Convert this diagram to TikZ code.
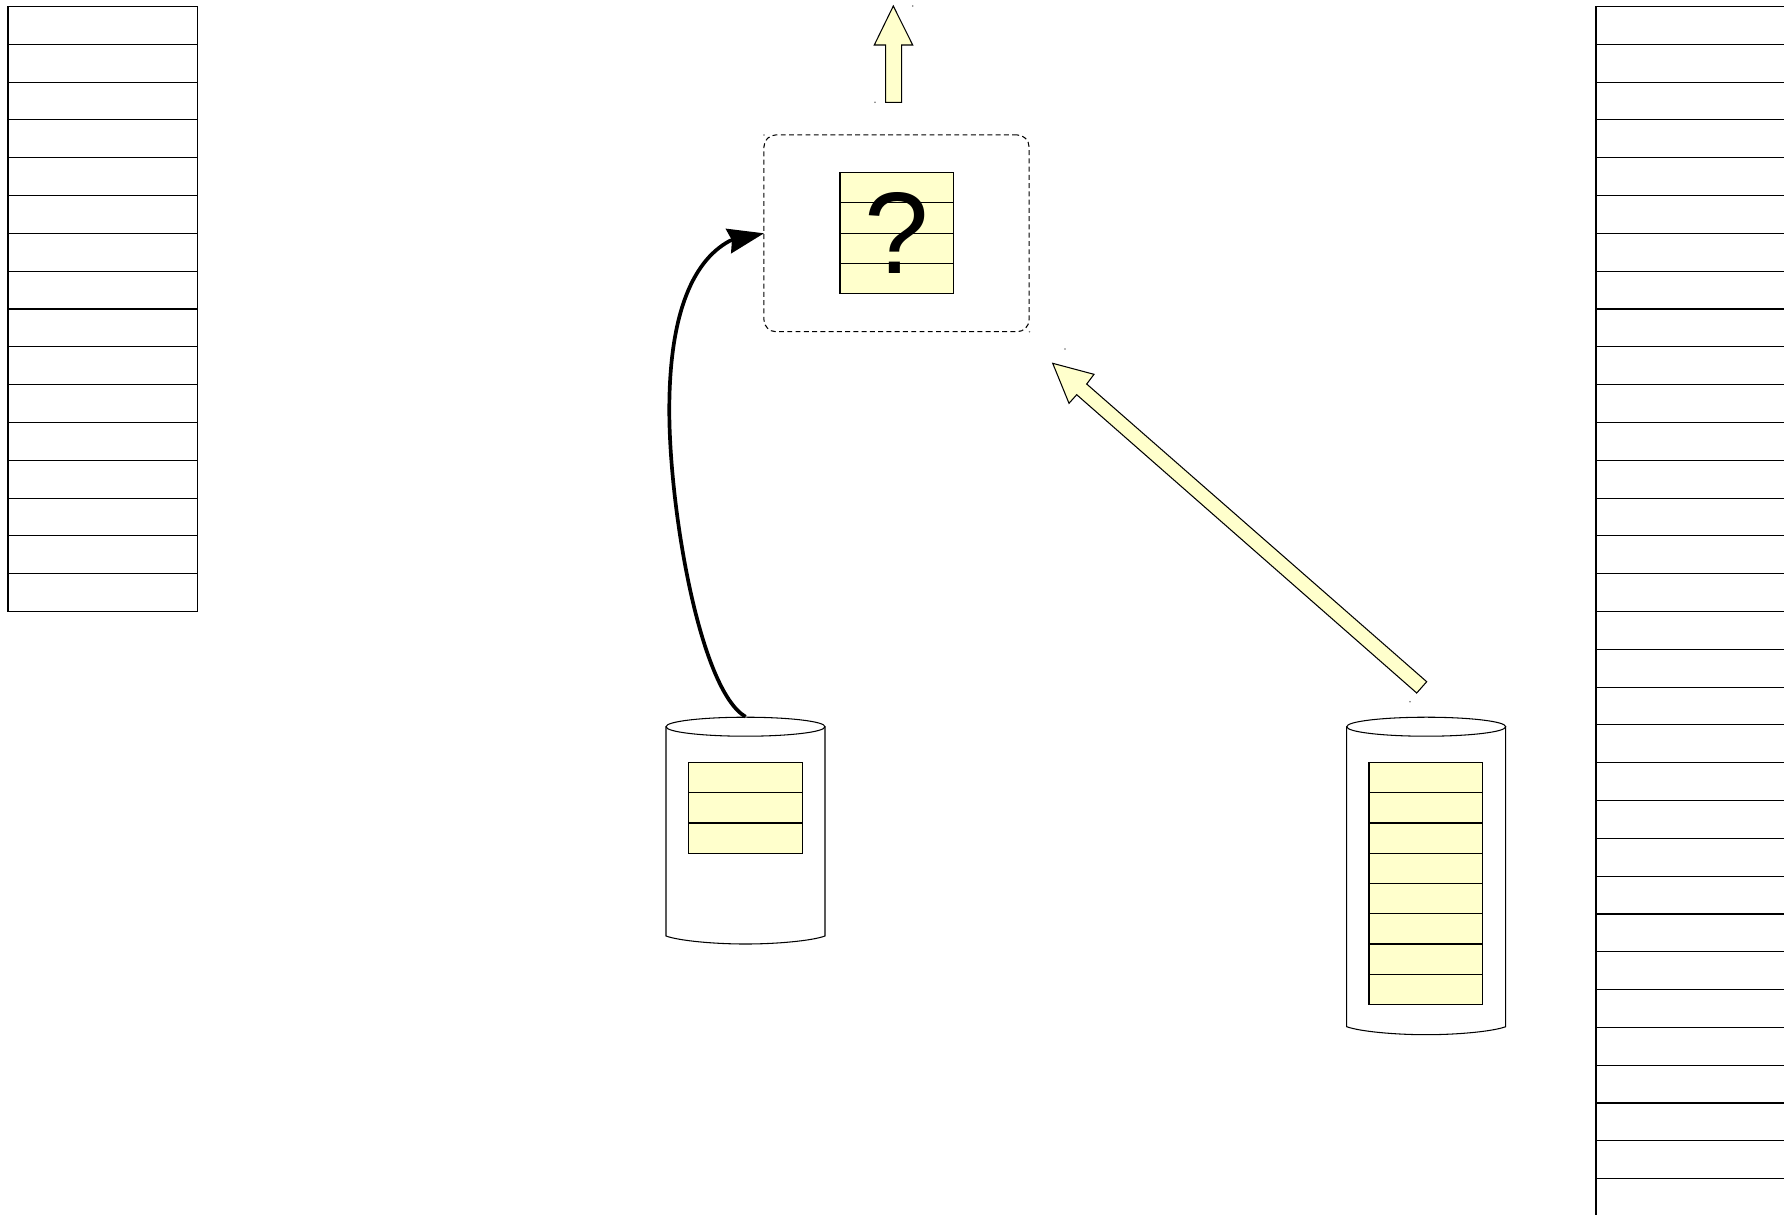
\documentclass[tikz,border=0pt]{standalone}
\usepackage{fontspec}
\newfontfamily\markfont{Liberation Sans}
\usepackage{tikz}
\usetikzlibrary{arrows.meta}
\definecolor{rowyellow}{HTML}{FFFFCC}
\tikzset{
  outline/.style = {draw=black, line width=0.3pt},
  memrow/.style = {outline, rectangle, anchor=north west, inner sep=0pt, outer sep=0pt, minimum height=0.3781cm},
  sliprow/.style = {outline, rectangle, fill=rowyellow, anchor=north west, inner sep=0pt, outer sep=0pt, minimum width=1.135cm, minimum height=0.3025cm},
  groupbox/.style = {outline, rectangle, rounded corners=0.12cm, dash pattern=on 1.4pt off 0.95pt, inner sep=0pt, outer sep=0pt, minimum width=2.65cm, minimum height=1.967cm},
  blockarrow/.style = {outline, fill=rowyellow, line join=miter},
  speck/.style = {circle, fill=black!55, inner sep=0pt, minimum size=0.5pt}
}

\begin{document}
\begin{tikzpicture}[x=0.01cm, y=-0.01cm]
\path[use as bounding box, clip] (0,0) rectangle (1784,1214);
\foreach \i in {1,...,16}
  \node [memrow, minimum width=1.89cm] (left\i) at (8,{6.5+(\i-1)*37.81}) {};
\foreach \i in {1,...,32}
  \node [memrow, minimum width=2.5cm] (right\i) at (1596,{6.5+(\i-1)*37.81}) {};

\foreach \diskname/\diskx/\diskend in {a/666/936, b/1346.7/1026.7} {
  \draw [outline] (\diskx,726.7) -- (\diskx,\diskend)
    .. controls +(14,5) and +(-30,0) .. ++(79.5,8)
    .. controls +(30,0) and +(-14,5) .. ++(79.5,-8)
    -- ({\diskx+159},726.7);
  \draw [outline] ({\diskx+79.5},726.7) ellipse [x radius=79.5, y radius=9.5];
  \coordinate (disk\diskname top) at ({\diskx+79.5},716.7);
}
\foreach \i in {1,2,3}
  \node [sliprow] (slipa\i) at (688.7,{762.5+(\i-1)*30.25}) {};
\foreach \i in {1,...,8}
  \node [sliprow] (slipb\i) at (1369,{762.5+(\i-1)*30.25}) {};

\node [groupbox] (group) at (896.5,233.3) {};
\foreach \i in {1,...,4}
  \node [sliprow] (slipc\i) at (840,{172.7+(\i-1)*30.25}) {};
\node [inner sep=0pt, font=\fontsize{33}{33}\markfont] (mark) at (896.7,232.5) {?};

\draw [line width=1.05pt, -{Stealth[length=10.4pt, width=7.3pt, inset=1.1pt, line width=0pt]}] (diskatop)
    .. controls (700,690) and (669.3,510) .. (669.3,410)
    .. controls (669.3,320) and (690,262) .. (730,240.7)
    -- (group.west);

\draw [blockarrow] (893.3,6) -- (912.7,45) -- (901.7,45) -- (901.7,102.3)
    -- (885.7,102.3) -- (885.7,45) -- (874.3,45) -- cycle;
\draw [blockarrow] (1052.7,363.3) -- (1094,374.3) -- (1086.7,384) -- (1426.7,681.7)
    -- (1416.7,693) -- (1076.7,394.7) -- (1069,403.3) -- cycle;

\foreach \n/\sx/\sy in {1/912.7/6, 2/875/102.3, 3/764/135, 4/1029.5/331.7, 5/1065/349, 6/1410/701.7}
  \node [speck] (speck\n) at (\sx,\sy) {};
\end{tikzpicture}
\end{document}
